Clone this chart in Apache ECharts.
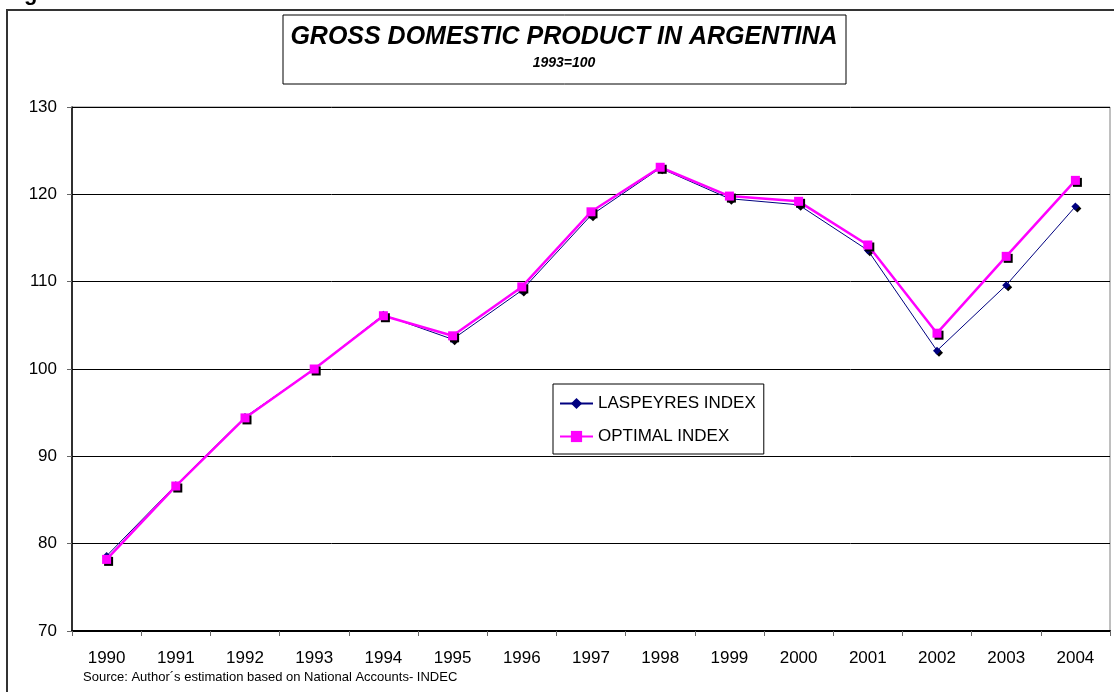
<!DOCTYPE html>
<html>
<head>
<meta charset="utf-8">
<style>
  html, body { margin: 0; padding: 0; background: #fff; }
  #chart { width: 1114px; height: 692px; }
</style>
<script src="https://cdn.jsdelivr.net/npm/echarts@6/dist/echarts.min.js"></script>
</head>
<body>
<div id="chart"></div>
<script>
const years = ["1990", "1991", "1992", "1993", "1994", "1995", "1996", "1997",
  "1998", "1999", "2000", "2001", "2002", "2003", "2004"];
const laspeyres = [78.6, 86.7, 94.5, 100.0, 106.2, 103.4, 109.0, 117.6,
  123.0, 119.5, 118.8, 113.6, 102.1, 109.6, 118.6];
const optimal = [78.2, 86.6, 94.4, 100.0, 106.1, 103.8, 109.4, 118.0,
  123.1, 119.8, 119.2, 114.2, 104.1, 112.9, 121.6];
const yTicks = { min: 70, max: 130, step: 10 };

const font = "Liberation Sans, Arial, sans-serif";
const chart = echarts.init(document.getElementById("chart"), null, { renderer: "canvas" });

chart.setOption({
  backgroundColor: "#fff",
  animation: false,
  textStyle: { fontFamily: font },
  grid: {
    left: 72, right: 4, top: 107, bottom: 61,
    show: true, borderColor: "#808080", borderWidth: 1,
  },
  legend: {
    orient: "vertical",
    left: 553, top: 384,
    padding: [11, 8, 9, 6],
    itemWidth: 33, itemHeight: 14, itemGap: 16,
    borderColor: "#000", borderWidth: 1,
    textStyle: { fontFamily: font, fontSize: 17, color: "#000" },
    data: ["LASPEYRES INDEX", "OPTIMAL INDEX"],
  },
  xAxis: {
    type: "category",
    data: years,
    boundaryGap: true,
    axisLine: { lineStyle: { color: "#000", width: 2 } },
    axisTick: { show: true, length: 5, lineStyle: { color: "#666" } },
    axisLabel: { color: "#000", fontSize: 17, margin: 19, fontFamily: font },
    splitLine: { show: false },
  },
  yAxis: {
    type: "value",
    min: yTicks.min, max: yTicks.max, interval: yTicks.step,
    axisLine: { show: true, lineStyle: { color: "#000", width: 1.5 } },
    axisTick: { show: true, length: 5, lineStyle: { color: "#666" } },
    axisLabel: { color: "#000", fontSize: 17, margin: 15, fontFamily: font },
    splitLine: { lineStyle: { color: "#000", width: 1 } },
  },
  series: [
    {
      name: "LASPEYRES INDEX",
      type: "line",
      data: laspeyres,
      symbol: "diamond",
      symbolSize: 8,
      lineStyle: { color: "#000080", width: 1 },
      itemStyle: { color: "#000080", shadowColor: "#000", shadowOffsetX: 2, shadowOffsetY: 2 },
      z: 2,
    },
    {
      name: "OPTIMAL INDEX",
      type: "line",
      data: optimal,
      symbol: "rect",
      symbolSize: 9,
      lineStyle: { color: "#ff00ff", width: 2.5 },
      itemStyle: { color: "#ff00ff", shadowColor: "#000", shadowOffsetX: 2, shadowOffsetY: 2 },
      z: 3,
    },
  ],
  graphic: [
    {
      type: "rect", z: -10, silent: true,
      shape: { x: 7, y: 10, width: 1200, height: 800 },
      style: { fill: null, stroke: "#333", lineWidth: 2 },
    },
    {
      type: "text", silent: true,
      style: { x: 24, y: 5, text: "g", fontSize: 22, fontWeight: "bold", fontFamily: font,
        fill: "#000", verticalAlign: "bottom" },
      top: -17, left: 24,
    },
    {
      type: "rect", silent: true,
      shape: { x: 283, y: 15, width: 563, height: 69 },
      style: { fill: "#fff", stroke: "#000", lineWidth: 1 },
    },
    {
      type: "text", silent: true,
      style: { x: 564, y: 37, text: "GROSS DOMESTIC PRODUCT IN ARGENTINA",
        fontSize: 25, fontWeight: "bold", fontStyle: "italic", fontFamily: font,
        fill: "#000", align: "center", verticalAlign: "middle" },
    },
    {
      type: "text", silent: true,
      style: { x: 564, y: 63, text: "1993=100",
        fontSize: 14, fontWeight: "bold", fontStyle: "italic", fontFamily: font,
        fill: "#000", align: "center", verticalAlign: "middle" },
    },
    {
      type: "text", silent: true,
      style: { x: 83, y: 677, text: "Source: Author´s estimation based on National Accounts- INDEC",
        fontSize: 13, fontFamily: font, fill: "#000", verticalAlign: "middle" },
    },
  ],
});
</script>
</body>
</html>
